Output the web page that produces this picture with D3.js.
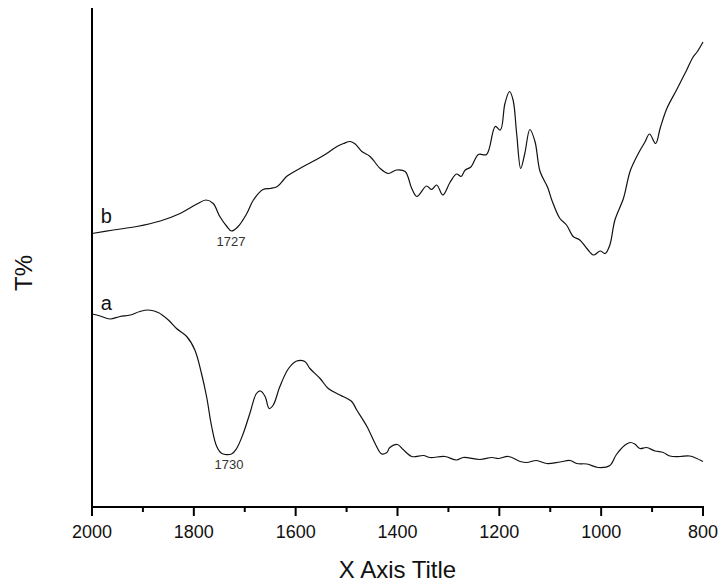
<!DOCTYPE html>
<html>
<head>
<meta charset="utf-8">
<script src="https://cdn.jsdelivr.net/npm/d3@7"></script>
<style>
  body { margin: 0; background: #fff; }
  svg { display: block; font-family: "Liberation Sans", Arial, sans-serif; }
</style>
</head>
<body>
<div id="chart"></div>
<script>
// wavenumber (cm-1) and relative transmittance for each spectrum
var waveB = [2000, 1958, 1912, 1866, 1827, 1794, 1776, 1762, 1749, 1735, 1726, 1713, 1696, 1683, 1664, 1650, 1636, 1624, 1618, 1585, 1559, 1539, 1519, 1506, 1493, 1483, 1470, 1454, 1434, 1418, 1402, 1385, 1372, 1362, 1343, 1333, 1323, 1311, 1297, 1284, 1275, 1267, 1256, 1241, 1225, 1208, 1198, 1189, 1180, 1173, 1166, 1158, 1150, 1140, 1130, 1120, 1105, 1097, 1081, 1068, 1055, 1042, 1028, 1015, 1002, 992, 983, 973, 956, 943, 927, 914, 905, 893, 884, 871, 852, 832, 820, 811, 800];
var valB = [54.7, 55.4, 56.1, 57.2, 58.7, 60.6, 61.4, 60.7, 58.1, 56.1, 55.2, 56.1, 58.7, 61.4, 63.5, 63.7, 64.1, 65.4, 66.1, 68.1, 69.5, 70.7, 72.1, 72.7, 73.1, 72.6, 71.1, 70.1, 67.7, 66.7, 67.4, 67.1, 63.7, 62.1, 64.2, 63.5, 64.4, 62.4, 64.9, 66.6, 66.1, 67.4, 68.0, 70.5, 70.5, 76.1, 75.4, 80.7, 83.1, 81.4, 74.7, 67.7, 70.7, 75.5, 73.1, 67.1, 63.9, 61.4, 57.7, 56.4, 54.1, 53.4, 51.7, 50.4, 51.2, 50.7, 52.4, 57.4, 61.8, 67.2, 70.7, 73.0, 74.6, 72.7, 75.8, 79.7, 83.4, 87.4, 89.9, 91.1, 93.0];

var waveA = [2000, 1984, 1965, 1945, 1925, 1906, 1889, 1870, 1850, 1834, 1814, 1798, 1785, 1775, 1765, 1755, 1745, 1726, 1716, 1703, 1690, 1677, 1669, 1660, 1652, 1644, 1631, 1614, 1598, 1582, 1572, 1552, 1536, 1513, 1490, 1480, 1460, 1444, 1431, 1421, 1415, 1400, 1389, 1372, 1349, 1336, 1307, 1284, 1271, 1238, 1215, 1202, 1182, 1159, 1146, 1127, 1107, 1081, 1061, 1048, 1028, 1006, 983, 970, 953, 943, 934, 924, 911, 894, 878, 865, 845, 826, 800];
var valA = [38.6, 38.2, 37.6, 38.1, 38.4, 39.1, 39.4, 38.9, 37.4, 35.7, 34.1, 31.4, 26.7, 22.1, 16.1, 12.1, 10.7, 10.6, 11.7, 14.7, 18.7, 22.7, 23.2, 22.1, 19.7, 20.4, 24.1, 27.7, 29.2, 29.1, 27.7, 25.7, 23.7, 22.4, 21.1, 19.4, 16.1, 12.7, 10.6, 10.9, 11.9, 12.5, 11.5, 10.1, 10.3, 9.9, 10.1, 9.4, 9.9, 9.5, 9.9, 9.7, 10.1, 9.1, 8.9, 9.3, 8.7, 9.0, 9.3, 8.7, 8.6, 7.9, 8.3, 10.5, 12.4, 12.9, 12.6, 11.7, 11.9, 11.2, 10.9, 10.2, 10.1, 10.2, 9.1];

var majorTicks = [2000, 1800, 1600, 1400, 1200, 1000, 800];
var minorTicks = [1900, 1700, 1500, 1300, 1100, 900];

// curve labels and peak annotations
var curveLabels = [{ text: "b", wave: 1983, val: 56.8 }, { text: "a", wave: 1983, val: 39.4 }];
var peakLabels = [{ text: "1727", wave: 1727, val: 52.2 }, { text: "1730", wave: 1731, val: 7.6 }];

var width = 722, height = 586;
var x0 = 92, x1 = 703, yBottom = 507, yTop = 7;

var svg = d3.select("#chart").append("svg")
  .attr("width", width)
  .attr("height", height);

var x = d3.scaleLinear().domain([2000, 800]).range([x0, x1]);
var y = d3.scaleLinear().domain([0, 100]).range([yBottom, yTop]);

// axes lines
svg.append("line")
  .attr("x1", x0).attr("x2", x0)
  .attr("y1", yTop + 1).attr("y2", yBottom)
  .attr("stroke", "#000").attr("stroke-width", 2);

svg.append("line")
  .attr("x1", x0 - 1).attr("x2", x1 + 1)
  .attr("y1", yBottom).attr("y2", yBottom)
  .attr("stroke", "#000").attr("stroke-width", 2);

// ticks
svg.selectAll(".major").data(majorTicks).enter().append("line")
  .attr("x1", d => x(d)).attr("x2", d => x(d))
  .attr("y1", yBottom).attr("y2", yBottom + 9)
  .attr("stroke", "#000").attr("stroke-width", 2);

svg.selectAll(".minor").data(minorTicks).enter().append("line")
  .attr("x1", d => x(d)).attr("x2", d => x(d))
  .attr("y1", yBottom).attr("y2", yBottom + 5)
  .attr("stroke", "#000").attr("stroke-width", 2);

svg.selectAll(".ticklabel").data(majorTicks).enter().append("text")
  .attr("x", d => x(d))
  .attr("y", 538)
  .attr("text-anchor", "middle")
  .style("font-size", "18px")
  .attr("fill", "#111")
  .text(d => d);

// axis titles
svg.append("text")
  .attr("x", (x0 + x1) / 2)
  .attr("y", 578)
  .attr("text-anchor", "middle")
  .style("font-size", "24px")
  .attr("fill", "#111")
  .text("X Axis Title");

svg.append("text")
  .attr("transform", "translate(32,273) rotate(-90)")
  .attr("text-anchor", "middle")
  .style("font-size", "24px")
  .attr("fill", "#111")
  .text("T%");

// spectra
var line = d3.line()
  .x(d => x(d[0]))
  .y(d => y(d[1]))
  .curve(d3.curveCatmullRom.alpha(0.5));

[[waveB, valB], [waveA, valA]].forEach(function(s) {
  svg.append("path")
    .datum(d3.zip(s[0], s[1]))
    .attr("d", line)
    .attr("fill", "none")
    .attr("stroke", "#111")
    .attr("stroke-width", 1.2);
});

svg.selectAll(".clabel").data(curveLabels).enter().append("text")
  .attr("x", d => x(d.wave))
  .attr("y", d => y(d.val))
  .style("font-size", "20px")
  .attr("fill", "#111")
  .text(d => d.text);

svg.selectAll(".plabel").data(peakLabels).enter().append("text")
  .attr("x", d => x(d.wave))
  .attr("y", d => y(d.val))
  .attr("text-anchor", "middle")
  .style("font-size", "13px")
  .attr("fill", "#333")
  .text(d => d.text);
</script>
</body>
</html>
